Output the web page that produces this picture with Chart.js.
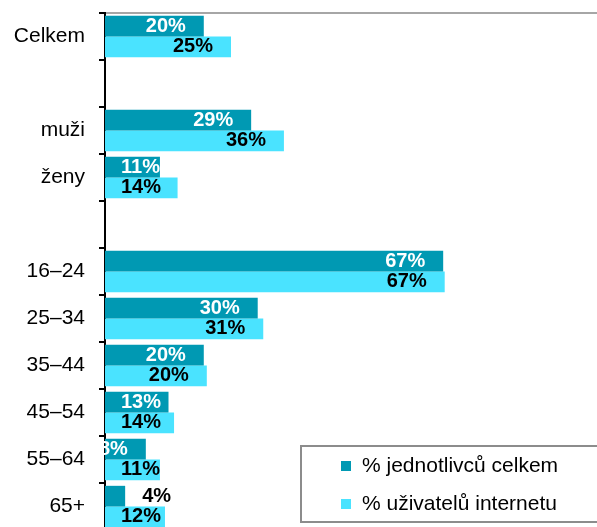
<!DOCTYPE html>
<html>
<head>
<meta charset="utf-8">
<script src="https://cdn.jsdelivr.net/npm/chart.js@4.4.0/dist/chart.umd.min.js"></script>
<style>
  html, body { margin: 0; padding: 0; overflow: hidden; background: #fff; }
  #myChart { position: absolute; left: 0; top: 0; }
</style>
</head>
<body>
<canvas id="myChart" width="612" height="540"></canvas>
<script>
// kategorie (prázdné = mezera mezi skupinami)
const categories = ['Celkem', '', 'muži', 'ženy', '', '16–24', '25–34', '35–44', '45–54', '55–64', '65+'];
const jednotlivci = [19.6, null, 29, 10.9, null, 67.1, 30.3, 19.6, 12.6, 8.1, 4];
const uzivatele = [25, null, 35.5, 14.4, null, 67.4, 31.4, 20.2, 13.7, 10.9, 11.9];
const seriesNames = ['% jednotlivců celkem', '% uživatelů internetu'];

const DARK = '#0099b3';
const LIGHT = '#4ae3ff';
const FONT = "'Liberation Sans', Arial, sans-serif";

// popisky hodnot u konce sloupců
const valueLabels = {
    id: 'valueLabels',
    afterDatasetsDraw(chart) {
        const ctx = chart.ctx;
        ctx.save();
        ctx.font = 'bold 20px ' + FONT;
        ctx.textBaseline = 'middle';
        chart.data.datasets.forEach((ds, i) => {
            chart.getDatasetMeta(i).data.forEach((bar, j) => {
                const v = ds.data[j];
                if (v === null) return;
                const text = Math.round(v) + '%';
                const w = ctx.measureText(text).width;
                if (v < 5) {
                    ctx.fillStyle = '#000';
                    ctx.textAlign = 'left';
                    ctx.fillText(text, bar.x + 17, bar.y);
                    return;
                }
                ctx.fillStyle = i === 0 ? '#fff' : '#000';
                ctx.textAlign = 'left';
                let left = bar.x - 18 - w;
                const minLeft = bar.base + 16;
                // krátké sloupce: popisek začíná kousek od osy
                if (left < minLeft && bar.x - minLeft >= w) left = minLeft;
                ctx.fillText(text, left, bar.y);
            });
        });
        ctx.restore();
    }
};

// legenda v rámečku vpravo dole
const boxLegend = {
    id: 'boxLegend',
    afterDraw(chart) {
        const ctx = chart.ctx;
        ctx.save();
        ctx.fillStyle = '#fff';
        ctx.fillRect(300, 445, 320, 77);
        ctx.strokeStyle = '#8c8c8c';
        ctx.lineWidth = 2;
        ctx.strokeRect(301, 446, 320, 76);
        ctx.font = '21px ' + FONT;
        ctx.textBaseline = 'middle';
        ctx.textAlign = 'left';
        chart.data.datasets.forEach((ds, i) => {
            const y = 466 + i * 38;
            ctx.fillStyle = ds.backgroundColor;
            ctx.fillRect(341, y - 5, 10, 10);
            ctx.fillStyle = '#000';
            ctx.fillText(ds.label, 362, y);
        });
        ctx.restore();
    }
};

new Chart(document.getElementById('myChart'), {
    type: 'bar',
    data: {
        labels: categories,
        datasets: [
            { label: seriesNames[0], data: jednotlivci, backgroundColor: DARK },
            { label: seriesNames[1], data: uzivatele, backgroundColor: LIGHT }
        ]
    },
    options: {
        indexAxis: 'y',
        responsive: false,
        devicePixelRatio: 1,
        animation: false,
        datasets: {
            bar: { categoryPercentage: 0.88, barPercentage: 1.0, skipNull: true }
        },
        layout: { padding: { top: 13, right: 3, left: 0, bottom: 10 } },
        plugins: {
            legend: { display: false },
            tooltip: { enabled: false }
        },
        scales: {
            x: {
                position: 'top',
                min: 0,
                max: 100,
                ticks: { display: false },
                grid: { display: false, drawTicks: false },
                border: { display: true, color: '#a6a6a6', width: 2 }
            },
            y: {
                grid: {
                    display: true,
                    drawOnChartArea: false,
                    drawTicks: true,
                    tickLength: 6,
                    color: '#000',
                    lineWidth: 2
                },
                border: { display: true, color: '#000', width: 2 },
                ticks: {
                    color: '#000',
                    padding: 14,
                    font: { family: FONT, size: 21 }
                },
                afterFit(scale) {
                    scale.width = 105;
                    scale.paddingTop = 0;
                    scale.paddingBottom = 0;
                }
            }
        }
    },
    plugins: [valueLabels, boxLegend]
});
</script>
</body>
</html>
